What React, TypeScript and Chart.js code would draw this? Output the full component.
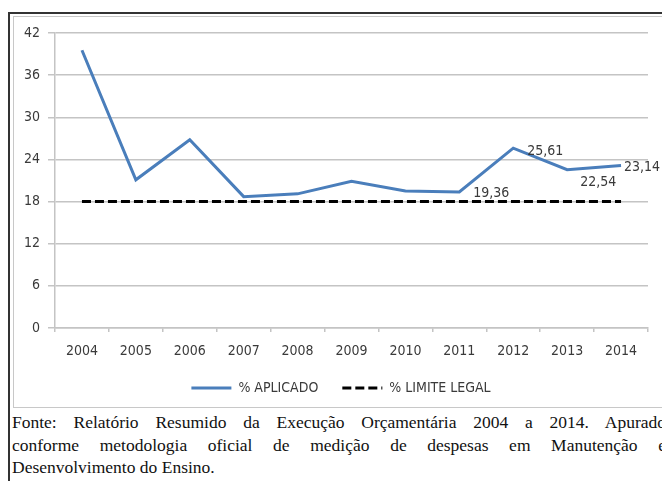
import React, { useEffect, useRef } from "react";
import { Chart, registerables } from "chart.js";

Chart.register(...registerables);

const years = ["2004", "2005", "2006", "2007", "2008", "2009", "2010", "2011", "2012", "2013", "2014"];
const aplicado = [39.55, 21.1, 26.8, 18.7, 19.1, 20.9, 19.5, 19.36, 25.61, 22.54, 23.14];
const limiteLegal = [18, 18, 18, 18, 18, 18, 18, 18, 18, 18, 18];
const yTicks = [0, 6, 12, 18, 24, 30, 36, 42];
const labeledPoints = [7, 8, 9, 10];
const seriesNames = ["% APLICADO", "% LIMITE LEGAL"];
const captionLines = [
  "Fonte: Relatório Resumido da Execução Orçamentária 2004 a 2014. Apurado",
  "conforme metodologia oficial de medição de despesas em Manutenção e",
  "Desenvolvimento do Ensino.",
];

const FONT = '"DejaVu Sans Condensed", "Liberation Sans Narrow", sans-serif';
const TEXT = "#3a3a3a";
const GRID = "#c4c4c4";

const labelOffsets: Record<number, [number, number]> = {
  7: [14, 1],
  8: [14, 3],
  9: [13, 13],
  10: [3, 2],
};

const fmt = (v: number) => v.toFixed(2).replace(".", ",");

const dataLabelPlugin = {
  id: "dataLabels",
  afterDatasetsDraw(chart: any) {
    const ctx = chart.ctx;
    const meta = chart.getDatasetMeta(0);
    ctx.save();
    ctx.font = `14px ${FONT}`;
    ctx.fillStyle = TEXT;
    ctx.textAlign = "left";
    ctx.textBaseline = "middle";
    labeledPoints.forEach((i) => {
      const pt = meta.data[i];
      const [dx, dy] = labelOffsets[i] || [10, 0];
      ctx.fillText(fmt(aplicado[i]), pt.x + dx, pt.y + dy);
    });
    ctx.restore();
  },
};

export default function App() {
  const canvasRef = useRef<HTMLCanvasElement | null>(null);

  useEffect(() => {
    if (!canvasRef.current) return;
    const chart = new Chart(canvasRef.current, {
      type: "line",
      data: {
        labels: years,
        datasets: [
          {
            label: seriesNames[0],
            data: aplicado,
            borderColor: "#4A7EBB",
            backgroundColor: "#4A7EBB",
            borderWidth: 3,
            pointRadius: 0,
            tension: 0,
            fill: false,
          },
          {
            label: seriesNames[1],
            data: limiteLegal,
            borderColor: "#000000",
            backgroundColor: "#000000",
            borderWidth: 3,
            borderDash: [9, 4],
            pointRadius: 0,
            tension: 0,
            fill: false,
          },
        ],
      },
      options: {
        animation: false,
        responsive: false,
        maintainAspectRatio: false,
        devicePixelRatio: 1,
        layout: { padding: { left: 34, right: 14, top: 33, bottom: 2 } },
        plugins: {
          tooltip: { enabled: false },
          legend: {
            position: "bottom",
            labels: {
              usePointStyle: true,
              pointStyle: "line",
              pointStyleWidth: 40,
              padding: 24,
              color: TEXT,
              font: { family: FONT, size: 14 },
              generateLabels: (chart: any) => {
                const items = (Chart as any).defaults.plugins.legend.labels.generateLabels(chart);
                return items.map((item: any) => {
                  const ds = chart.data.datasets[item.datasetIndex];
                  return {
                    ...item,
                    strokeStyle: ds.borderColor,
                    fillStyle: ds.borderColor,
                    lineWidth: ds.borderWidth,
                    lineDash: ds.borderDash || [],
                    lineCap: "butt",
                    pointStyle: "line",
                  };
                });
              },
            },
          },
        },
        scales: {
          x: {
            offset: true,
            grid: {
              offset: true,
              drawOnChartArea: false,
              drawTicks: true,
              tickLength: 4,
              color: GRID,
              lineWidth: 1.5,
            },
            border: { display: true, color: GRID, width: 1.5 },
            ticks: {
              color: TEXT,
              font: { family: FONT, size: 14 },
              padding: 11,
              maxRotation: 0,
              autoSkip: false,
            },
            afterFit: (scale: any) => {
              scale.height = 29;
            },
          },
          y: {
            min: 0,
            max: 42,
            grid: {
              color: GRID,
              lineWidth: 1.5,
              drawTicks: true,
              tickLength: 7,
            },
            border: { display: true, color: GRID, width: 1.5 },
            ticks: {
              color: TEXT,
              font: { family: FONT, size: 14 },
              padding: 8,
            },
            afterBuildTicks: (scale: any) => {
              scale.ticks = yTicks.map((v) => ({ value: v }));
            },
            afterFit: (scale: any) => {
              scale.width = 21;
              scale._computeLabelArea = () => undefined;
            },
          },
        },
      },
      plugins: [dataLabelPlugin],
    });
    return () => chart.destroy();
  }, []);

  return (
    <div
      style={{
        position: "fixed",
        left: 0,
        top: 0,
        width: 662,
        height: 481,
        overflow: "hidden",
        background: "#ffffff",
      }}
    >
      <div
        style={{
          position: "absolute",
          left: 8,
          top: 12,
          width: 700,
          height: 520,
          borderLeft: "2px solid #333",
          borderTop: "2px solid #333",
        }}
      />
      <div
        style={{
          position: "absolute",
          left: 13,
          top: 16,
          width: 700,
          height: 390,
          border: "1px solid #c8c8c8",
        }}
      />
      <canvas
        ref={canvasRef}
        width={662}
        height={407}
        style={{ position: "absolute", left: 0, top: 0, width: 662, height: 407 }}
      />
      <div
        style={{
          position: "absolute",
          left: 12,
          top: 411,
          width: 654,
          fontFamily: '"Liberation Serif", "Times New Roman", serif',
          fontSize: 17.5,
          lineHeight: "22.5px",
          color: "#111",
        }}
      >
        {captionLines.map((line, i) => (
          <div
            key={i}
            style={{
              whiteSpace: "nowrap",
              textAlign: i < captionLines.length - 1 ? "justify" : "left",
              textAlignLast: i < captionLines.length - 1 ? "justify" : "left",
            }}
          >
            {line}
          </div>
        ))}
      </div>
    </div>
  );
}
